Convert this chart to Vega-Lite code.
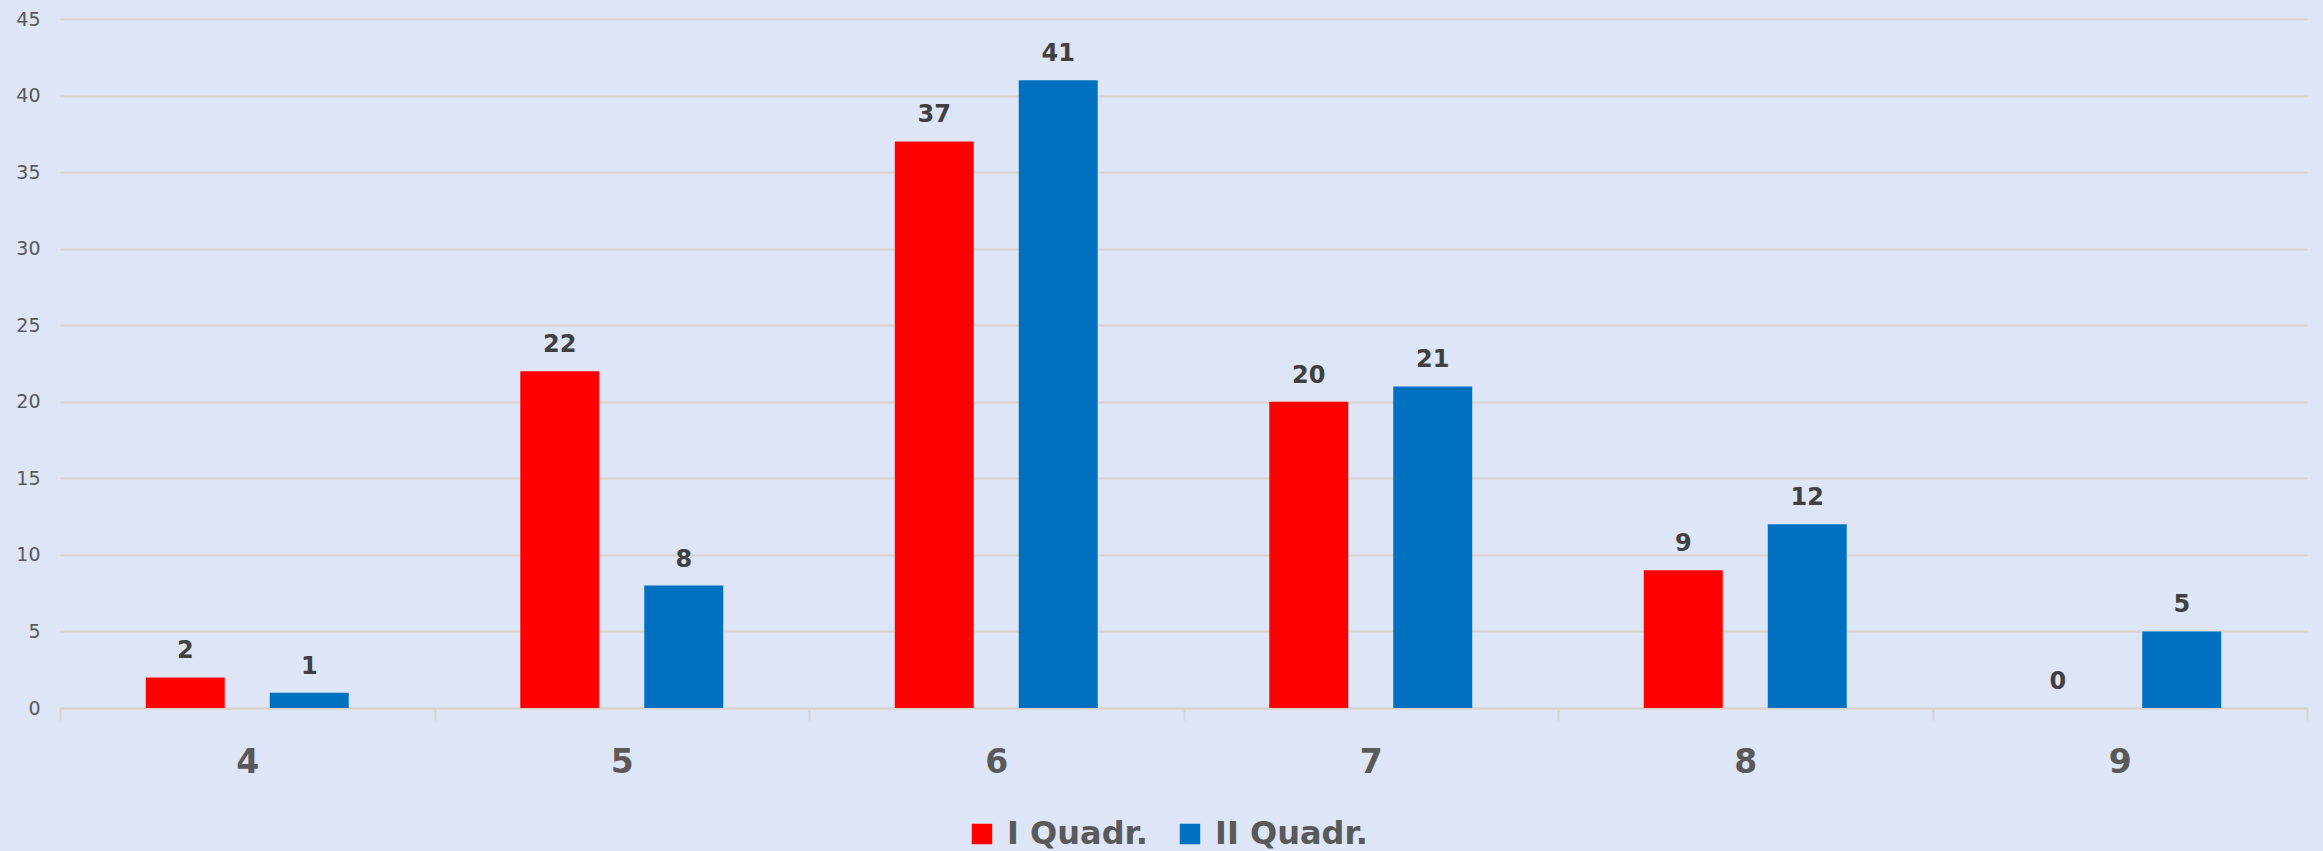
{
  "$schema": "https://vega.github.io/schema/vega-lite/v6.json",
  "width": 2247,
  "height": 689,
  "autosize": {"type": "none"},
  "padding": {"left": 60, "top": 19, "right": 16, "bottom": 143},
  "background": "#dde5f6",
  "config": {
    "view": {"stroke": null},
    "font": "DejaVu Sans"
  },
  "data": {
    "values": [
      {"cat": "4", "series": "I Quadr.", "value": 2},
      {"cat": "4", "series": "II Quadr.", "value": 1},
      {"cat": "5", "series": "I Quadr.", "value": 22},
      {"cat": "5", "series": "II Quadr.", "value": 8},
      {"cat": "6", "series": "I Quadr.", "value": 37},
      {"cat": "6", "series": "II Quadr.", "value": 41},
      {"cat": "7", "series": "I Quadr.", "value": 20},
      {"cat": "7", "series": "II Quadr.", "value": 21},
      {"cat": "8", "series": "I Quadr.", "value": 9},
      {"cat": "8", "series": "II Quadr.", "value": 12},
      {"cat": "9", "series": "I Quadr.", "value": 0},
      {"cat": "9", "series": "II Quadr.", "value": 5}
    ]
  },
  "encoding": {
    "x": {
      "field": "cat", "type": "nominal", "sort": null,
      "scale": {"paddingInner": 0, "paddingOuter": 0},
      "axis": {
        "title": null, "labelAngle": 0, "labelFontSize": 33, "labelFontWeight": "bold",
        "labelColor": "#595959", "labelPadding": 26,
        "domainColor": "#d9d4cc", "domainWidth": 2,
        "ticks": true, "tickBand": "extent", "tickColor": "#d9d4cc", "tickSize": 12, "tickWidth": 2
      }
    },
    "xOffset": {
      "field": "series", "type": "nominal",
      "scale": {"paddingInner": 0.363, "paddingOuter": 0.692}
    },
    "y": {
      "field": "value", "type": "quantitative",
      "scale": {"domain": [0, 45], "nice": false},
      "axis": {
        "title": null, "values": [0, 5, 10, 15, 20, 25, 30, 35, 40, 45],
        "labelFontSize": 19, "labelColor": "#595959", "labelPadding": 20,
        "ticks": false, "domain": false,
        "gridColor": "#d9d4cc", "gridWidth": 2
      }
    },
    "color": {
      "field": "series", "type": "nominal",
      "scale": {"domain": ["I Quadr.", "II Quadr."], "range": ["#ff0000", "#0070c0"]},
      "legend": {
        "title": null, "orient": "none", "legendX": 906, "legendY": 799, "direction": "horizontal",
        "symbolType": "square", "symbolSize": 420, "symbolStrokeWidth": 0,
        "labelFontSize": 32, "labelFontWeight": "bold", "labelColor": "#595959",
        "columnPadding": 26, "labelOffset": 9
      }
    }
  },
  "layer": [
    {"mark": {"type": "bar"}},
    {
      "mark": {"type": "text", "dy": -19, "baseline": "alphabetic", "fontSize": 24, "fontWeight": "bold", "color": "#404040"},
      "encoding": {"text": {"field": "value", "type": "quantitative"}, "color": {"value": "#404040"}}
    }
  ]
}
